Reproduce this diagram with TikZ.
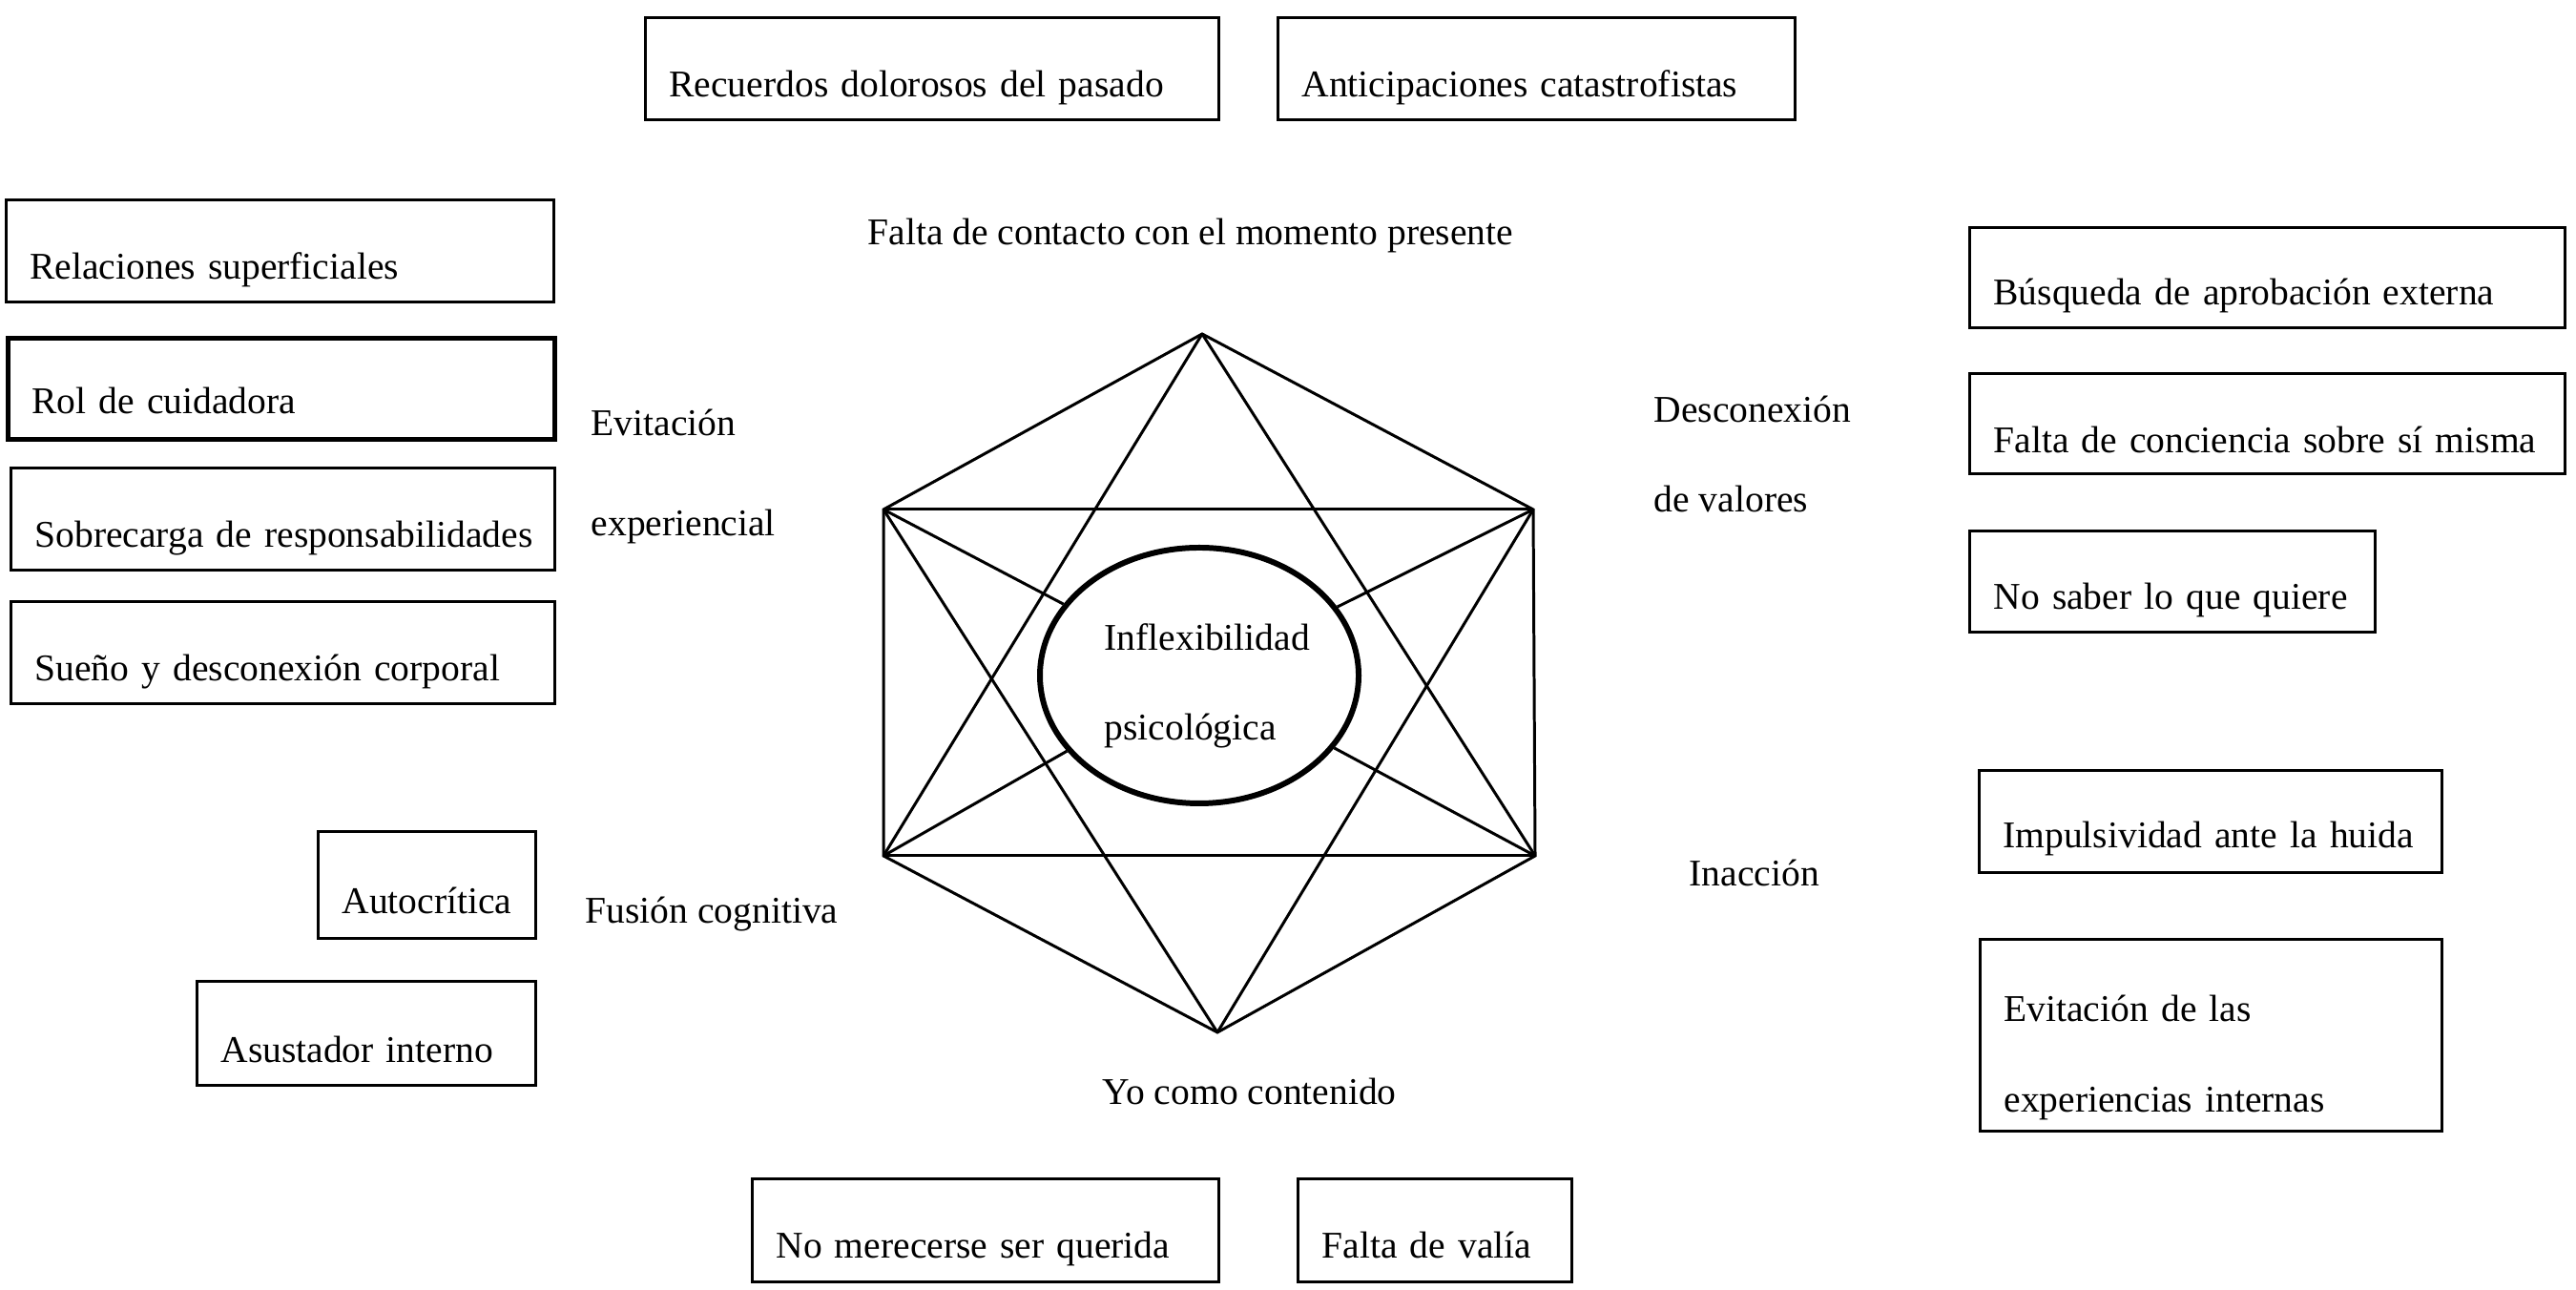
\documentclass[tikz,border=0pt]{standalone}
\usepackage{fontspec}
\setmainfont{Liberation Serif}
\usepackage{tikz}
\usetikzlibrary{shapes.geometric}

\tikzset{
  box/.style={draw=black,line width=0.85pt,anchor=south west,inner xsep=0.25cm,inner ysep=0pt,
    align=left,text depth=0.24cm,text height=0.83cm},
  tag/.style={anchor=base west,align=left,inner sep=0pt},
  edge/.style={line width=0.85pt}
}

\begin{document}
\begin{tikzpicture}[font=\fontsize{11.25}{27}\selectfont]
  \useasboundingbox (0,0) rectangle (27,13.52);
  % \draw[step=1cm,gray,very thin] (0,0) grid (27,13.52);
  %Corners
  \coordinate (top) at (12.60,10.02);
  \coordinate (upleft) at (9.26,8.18);
  \coordinate (upright) at (16.07,8.18);
  \coordinate (lowleft) at (9.26,4.55);
  \coordinate (lowright) at (16.09,4.55);
  \coordinate (bottom) at (12.76,2.70);

  %Center
  \node at (12.57,6.44) [ellipse,draw=black,line width=1.7pt,minimum width=3.34cm,minimum height=2.68cm,inner sep=0pt] (core) {};
  \node at (11.57,5.76) [tag] (coretext) {Inflexibilidad\\psicológica};

  %Processes
  \node at (9.09,10.95) [tag] (present) {Falta de contacto con el momento presente};
  \node at (6.19,7.90) [tag] (avoid) {Evitación\\[0.11cm]experiencial};
  \node at (17.33,8.15) [tag] (values) {Desconexión\\de valores};
  \node at (6.13,3.84) [tag] (fusion) {Fusión cognitiva};
  \node at (17.70,4.23) [tag] (inaction) {Inacción};
  \node at (11.55,1.94) [tag] (self) {Yo como contenido};

  %Boxes
  \node at (6.75,12.25) [box,text width=5.51cm] (memories) {Recuerdos dolorosos del pasado};
  \node at (13.38,12.25) [box,text width=4.92cm] (anticip) {Anticipaciones catastrofistas};
  \node at (0.05,10.34) [box,text width=5.24cm] (shallow) {Relaciones superficiales};
  \node at (0.06,8.89) [box,text width=5.23cm,line width=1.3pt,text depth=0.27cm,text height=0.79cm] (carer) {Rol de cuidadora};
  \node at (0.10,7.53) [box,text width=5.20cm] (overload) {\mbox{Sobrecarga de responsabilidades}};
  \node at (0.10,6.13) [box,text width=5.20cm] (sleep) {Sueño y desconexión corporal};
  \node at (20.63,10.07) [box,text width=5.74cm,text height=0.81cm] (approval) {Búsqueda de aprobación externa};
  \node at (20.63,8.54) [box,text width=5.74cm,text depth=0.22cm] (awareness) {\mbox{Falta de conciencia sobre sí misma}};
  \node at (20.63,6.88) [box,text width=3.75cm,text height=0.82cm] (wants) {No saber lo que quiere};
  \node at (20.73,4.36) [box,text width=4.35cm,text depth=0.26cm,text height=0.81cm] (impulse) {Impulsividad ante la huida};
  \node at (20.74,1.65) [box,text width=4.34cm,text depth=1.15cm,text height=0.86cm] (inner) {Evitación de las\\experiencias internas};
  \node at (3.32,3.67) [box,text width=1.78cm,text depth=0.26cm,text height=0.86cm] (critic) {Autocrítica};
  \node at (2.05,2.13) [box,text width=3.05cm,text height=0.85cm] (scarer) {Asustador interno};
  \node at (7.87,0.07) [box,text width=4.39cm,text depth=0.25cm] (unloved) {No merecerse ser querida};
  \node at (13.59,0.07) [box,text width=2.37cm,text depth=0.25cm] (worth) {Falta de valía};

  %Lines
  \draw[edge] (top) -- (upleft) -- (lowleft) -- (bottom) -- (lowright) -- (upright) -- cycle;
  \draw[edge] (upleft) -- (upright);
  \draw[edge] (lowleft) -- (lowright);
  \draw[edge] (top) -- (lowleft);
  \draw[edge] (top) -- (lowright);
  \draw[edge] (bottom) -- (upleft);
  \draw[edge] (bottom) -- (upright);
  \draw[edge] (upleft) -- (core);
  \draw[edge] (upright) -- (core);
  \draw[edge] (lowleft) -- (core);
  \draw[edge] (lowright) -- (core);
\end{tikzpicture}
\end{document}
